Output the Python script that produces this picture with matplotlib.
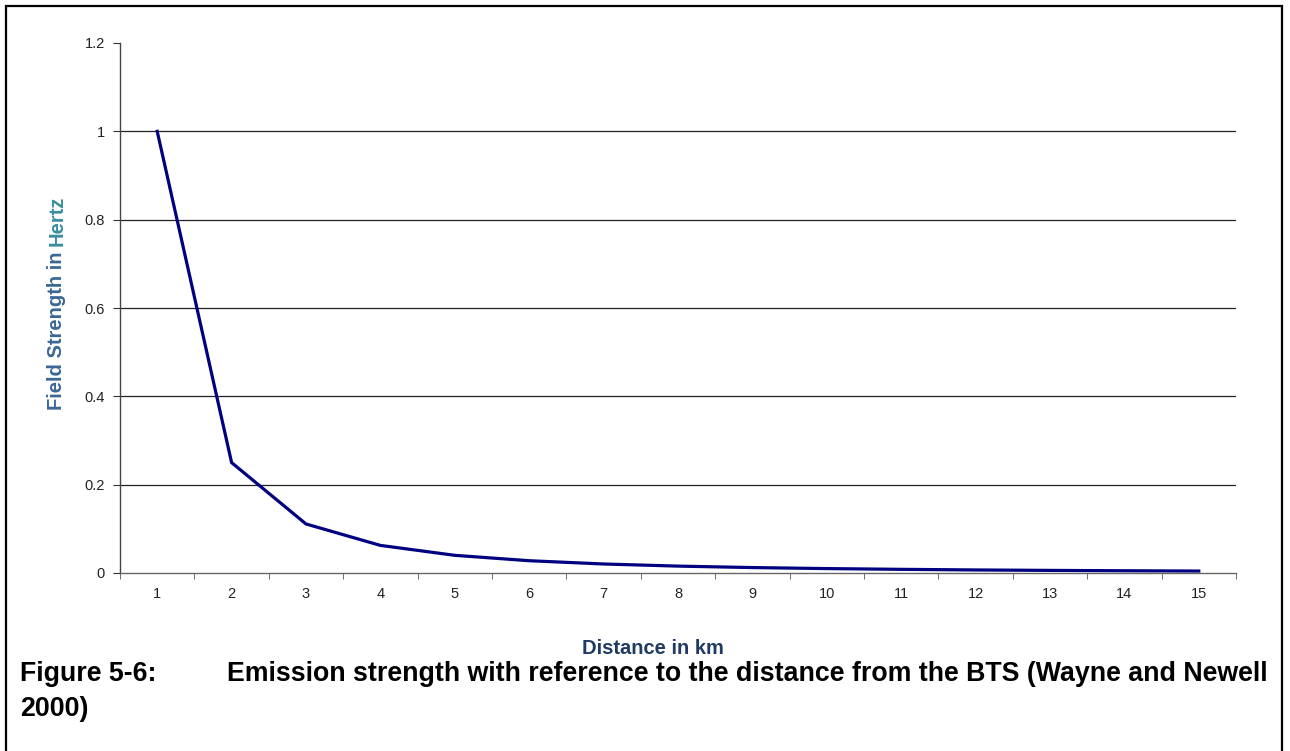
import matplotlib
matplotlib.use("Agg")
import matplotlib.pyplot as plt
from matplotlib.patches import Rectangle

plt.rcParams['font.family'] = ['Liberation Sans', 'DejaVu Sans']

# Data
distance_km = [1, 2, 3, 4, 5, 6, 7, 8, 9, 10, 11, 12, 13, 14, 15]
field_strength = [1.0, 0.25, 0.111, 0.0625, 0.04, 0.0278, 0.0204, 0.0156,
                  0.0123, 0.01, 0.0083, 0.0069, 0.0059, 0.0051, 0.0044]
y_ticks = [0, 0.2, 0.4, 0.6, 0.8, 1.0, 1.2]
y_tick_labels = ['0', '0.2', '0.4', '0.6', '0.8', '1', '1.2']

W, H = 1290, 751
fig = plt.figure(figsize=(W / 100, H / 100), dpi=100)

# outer frame
fig.patches.append(Rectangle((6 / W, -0.05), (1282 - 6) / W, 1.05 - 6 / H,
                             transform=fig.transFigure, fill=False,
                             edgecolor='black', linewidth=1.6))

ax = fig.add_axes([120 / W, 1 - 573 / H, (1236 - 120) / W, (573 - 43) / H])
ax.plot(distance_km, field_strength, color='#000080', linewidth=2.3,
        solid_joinstyle='miter')

ax.set_xlim(0.5, 15.5)
ax.set_ylim(0, 1.2)

# gridlines
for v in y_ticks[1:-1]:
    ax.axhline(v, color='#222222', linewidth=0.9, zorder=0)

ax.set_yticks(y_ticks)
ax.set_yticklabels(y_tick_labels)
ax.set_xticks(distance_km)
ax.set_xticklabels([str(d) for d in distance_km])
ax.set_xticks([d - 0.5 for d in distance_km] + [15.5], minor=True)
ax.tick_params(axis='x', which='major', length=0, pad=10, labelsize=10.5,
               labelcolor='#222222')
ax.tick_params(axis='x', which='minor', length=4, direction='out',
               color='#555555')
ax.tick_params(axis='y', which='major', length=5, direction='out',
               color='#333333', labelsize=10.5, labelcolor='#222222', pad=6)

for s in ['top', 'right']:
    ax.spines[s].set_visible(False)
ax.spines['left'].set_color('#444444')
ax.spines['bottom'].set_color('#666666')
ax.spines['left'].set_linewidth(1.0)
ax.spines['bottom'].set_linewidth(1.0)

# y axis title in two colours
t1 = fig.text(57 / W, 1 - 410 / H, 'Field Strength in', rotation=90,
              ha='center', va='bottom', fontsize=14.5, fontweight='bold',
              color='#3a6795')
renderer = fig.canvas.get_renderer()
bb = t1.get_window_extent(renderer)
fig.text(57 / W, (bb.y1 + 5) / H, 'Hertz', rotation=90,
         ha='center', va='bottom', fontsize=14.5, fontweight='bold',
         color='#3a8ea0')

fig.text(653 / W, 1 - 648 / H, 'Distance in km', ha='center', va='center',
         fontsize=14.5, fontweight='bold', color='#1f3b63')

# caption
fig.text(20 / W, 1 - 674 / H, 'Figure 5-6:', ha='left', va='center',
         fontsize=19.3, fontweight='bold')
fig.text(1268 / W, 1 - 674 / H,
         'Emission strength with reference to the distance from the BTS (Wayne and Newell',
         ha='right', va='center', fontsize=19.3, fontweight='bold')
fig.text(20 / W, 1 - 709 / H, '2000)', ha='left', va='center',
         fontsize=19.3, fontweight='bold')

fig.savefig('out.png', dpi=100)
